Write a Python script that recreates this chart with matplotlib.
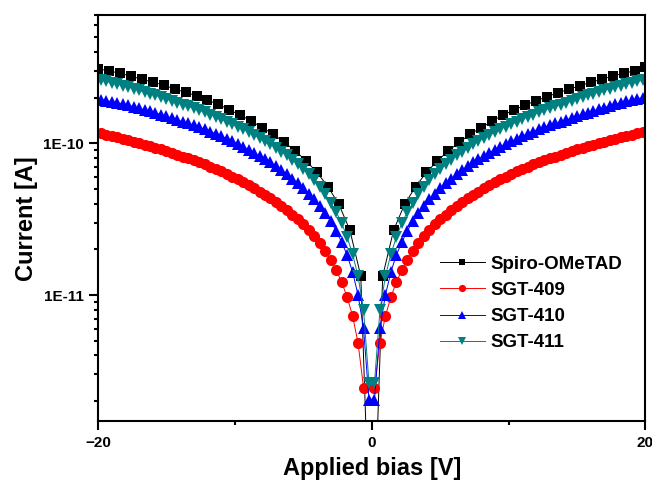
import numpy as np
import matplotlib
matplotlib.use('Agg')
import matplotlib.pyplot as plt
from matplotlib.ticker import FixedLocator, FixedFormatter, NullFormatter

plt.rcParams['font.family'] = ['Liberation Sans', 'DejaVu Sans']
plt.rcParams['font.weight'] = 'bold'

# bias sweeps [V]
v_spiro = np.round(np.arange(-20, 20.01, 0.8), 1)
v_sgt = np.round(np.concatenate([np.arange(-19.8, -0.19, 0.4), np.arange(0.2, 19.81, 0.4)]), 1)
v_409 = np.round(np.concatenate([np.arange(-19.8, -0.59, 0.4), np.arange(0.2, 19.81, 0.4)]), 1)

# log10 of current [A]
spiro_log = [-9.510, -9.521, -9.539, -9.556, -9.578, -9.596, -9.616, -9.642, -9.664, -9.686,
             -9.715, -9.743, -9.780, -9.813, -9.853, -9.897, -9.939, -9.993, -10.049, -10.115,
             -10.191, -10.286, -10.402, -10.572, -10.875, -13.0,
             -10.875, -10.572, -10.402, -10.286, -10.191, -10.115, -10.049, -9.993, -9.939, -9.897,
             -9.853, -9.813, -9.780, -9.748, -9.719, -9.693, -9.666, -9.644, -9.620, -9.598,
             -9.578, -9.556, -9.539, -9.521, -9.499]

sgt409_log = [-9.935, -9.943, -9.952, -9.960, -9.969, -9.978, -9.989, -10.000, -10.009, -10.019,
              -10.030, -10.040, -10.053, -10.065, -10.076, -10.087, -10.099, -10.111, -10.125, -10.138,
              -10.153, -10.167, -10.185, -10.202, -10.219, -10.235, -10.255, -10.275, -10.297, -10.319,
              -10.340, -10.361, -10.387, -10.415, -10.442, -10.471, -10.502, -10.535, -10.572, -10.611,
              -10.657, -10.710, -10.769, -10.835, -10.914, -11.013, -11.138, -11.316, -11.610,
              -11.610, -11.316, -11.138, -11.013, -10.914, -10.835, -10.769, -10.710, -10.657, -10.611,
              -10.572, -10.535, -10.502, -10.471, -10.442, -10.415, -10.387, -10.361, -10.340, -10.319,
              -10.297, -10.275, -10.255, -10.235, -10.219, -10.202, -10.185, -10.167, -10.153, -10.138,
              -10.125, -10.111, -10.099, -10.087, -10.076, -10.065, -10.053, -10.040, -10.030, -10.019,
              -10.009, -10.000, -9.989, -9.978, -9.969, -9.960, -9.952, -9.943, -9.935, -9.926]

sgt410_log = [-9.711, -9.718, -9.725, -9.733, -9.741, -9.749, -9.759, -9.770, -9.780, -9.790,
              -9.800, -9.811, -9.823, -9.835, -9.846, -9.858, -9.869, -9.881, -9.894, -9.908,
              -9.922, -9.936, -9.952, -9.970, -9.987, -10.003, -10.021, -10.041, -10.062, -10.084,
              -10.105, -10.126, -10.150, -10.177, -10.205, -10.233, -10.263, -10.295, -10.331, -10.370,
              -10.413, -10.460, -10.512, -10.578, -10.651, -10.736, -10.848, -11.000, -11.218, -11.692,
              -11.692, -11.218, -11.000, -10.848, -10.736, -10.651, -10.578, -10.512, -10.460, -10.413,
              -10.370, -10.331, -10.295, -10.263, -10.233, -10.205, -10.177, -10.150, -10.126, -10.105,
              -10.084, -10.062, -10.041, -10.021, -10.003, -9.987, -9.970, -9.952, -9.936, -9.922,
              -9.908, -9.894, -9.881, -9.869, -9.858, -9.846, -9.835, -9.820, -9.808, -9.797,
              -9.786, -9.775, -9.764, -9.753, -9.742, -9.733, -9.724, -9.715, -9.707, -9.699]

sgt411_log = [-9.583, -9.591, -9.601, -9.609, -9.619, -9.629, -9.639, -9.651, -9.662, -9.672,
              -9.684, -9.695, -9.708, -9.721, -9.734, -9.746, -9.757, -9.769, -9.782, -9.796,
              -9.810, -9.824, -9.840, -9.858, -9.875, -9.889, -9.906, -9.926, -9.945, -9.965,
              -9.985, -10.005, -10.028, -10.054, -10.080, -10.107, -10.137, -10.166, -10.202, -10.242,
              -10.285, -10.334, -10.394, -10.453, -10.525, -10.618, -10.730, -10.875, -11.099, -11.580,
              -11.580, -11.099, -10.875, -10.730, -10.618, -10.525, -10.453, -10.394, -10.334, -10.285,
              -10.242, -10.202, -10.166, -10.137, -10.107, -10.080, -10.054, -10.028, -10.005, -9.985,
              -9.965, -9.945, -9.926, -9.906, -9.889, -9.875, -9.858, -9.840, -9.824, -9.810,
              -9.796, -9.782, -9.769, -9.757, -9.746, -9.734, -9.721, -9.708, -9.695, -9.684,
              -9.672, -9.662, -9.651, -9.639, -9.629, -9.619, -9.609, -9.601, -9.591, -9.585]

labels = ['Spiro-OMeTAD', 'SGT-409', 'SGT-410', 'SGT-411']
colors = ['black', '#ff0000', '#0000ff', '#008080']

fig = plt.figure(figsize=(6.52, 4.88), dpi=100)
ax = fig.add_axes([0.1503, 0.1363, 0.8397, 0.8330])

ax.plot(v_spiro, 10**np.array(spiro_log), '-s', color=colors[0], lw=0.7, ms=6.8, mew=0, label=labels[0])
ax.plot(v_409, 10**np.array(sgt409_log), '-o', color=colors[1], lw=0.7, ms=8, mew=0, label=labels[1])
ax.plot(v_sgt, 10**np.array(sgt410_log), '-^', color=colors[2], lw=0.7, ms=8.5, mew=0, label=labels[2])
ax.plot(v_sgt, 10**np.array(sgt411_log), '-v', color=colors[3], lw=0.7, ms=8.5, mew=0, label=labels[3])

ax.set_yscale('log')
ax.set_xlim(-20, 20)
ax.set_ylim(1.466e-12, 7.02e-10)

ax.xaxis.set_major_locator(FixedLocator([-20, 0, 20]))
ax.xaxis.set_minor_locator(FixedLocator([-10, 10]))
ax.yaxis.set_major_locator(FixedLocator([1e-11, 1e-10]))
ax.yaxis.set_major_formatter(FixedFormatter(['1E-11', '1E-10']))
minors = [m * 10.0**e for e in (-12, -11, -10) for m in range(2, 10)]
ax.yaxis.set_minor_locator(FixedLocator(minors))
ax.yaxis.set_minor_formatter(NullFormatter())

ax.tick_params(which='both', direction='out', width=1.5, top=False, right=False)
ax.tick_params(which='major', length=6.5, labelsize=11, pad=4)
ax.tick_params(which='minor', length=3.2)
for s in ax.spines.values():
    s.set_linewidth(1.5)
for t in ax.get_xticklabels() + ax.get_yticklabels():
    t.set_fontweight('bold')

ax.set_xlabel('Applied bias [V]', fontsize=17, fontweight='bold', labelpad=5)
ax.set_ylabel('Current [A]', fontsize=17, fontweight='bold', labelpad=3)

ax.legend(loc='upper left', bbox_to_anchor=(0.6, 0.44), frameon=False,
          prop={'size': 13.5, 'weight': 'bold'}, handlelength=2.4, handletextpad=0.3,
          labelspacing=0.48, markerscale=0.65, borderpad=0.2)

fig.savefig('out.png', dpi=100)
